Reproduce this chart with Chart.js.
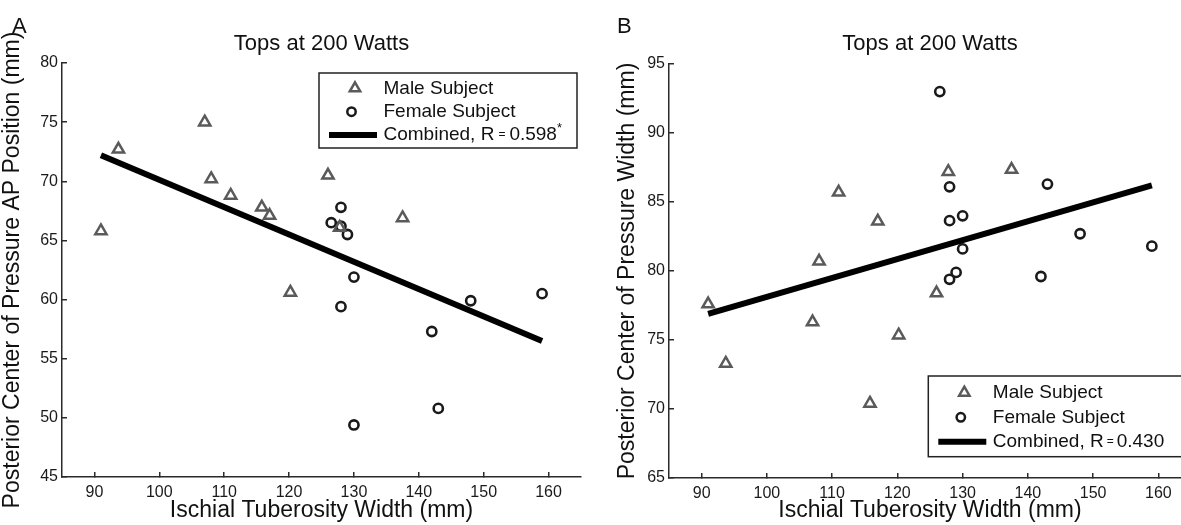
<!DOCTYPE html>
<html>
<head>
<meta charset="utf-8">
<script src="https://cdn.jsdelivr.net/npm/chart.js@4.4.1/dist/chart.umd.min.js"></script>
<style>
  html, body { margin: 0; padding: 0; background: #fff; overflow: hidden; }
  body { width: 1181px; height: 525px; position: relative; }
  #chartA { position: absolute; left: 0; top: 0; }
  #chartB { position: absolute; left: 590px; top: 0; }
</style>
</head>
<body>
<canvas id="chartA" width="590" height="525"></canvas>
<canvas id="chartB" width="610" height="525"></canvas>
<script>
// Ischial tuberosity width (mm) per subject
const maleWidth = [91, 93.7, 107, 108, 111, 115.8, 117, 120.2, 126, 127.8, 137.5];
const femaleWidth = [126.5, 128, 128, 128, 129, 130, 130, 142, 143, 148, 159];

// Panel A: posterior COP AP position (mm)
const maleAP = [65.8, 72.7, 75.0, 70.2, 68.8, 67.8, 67.1, 60.6, 70.5, 66.1, 66.9];
const femaleAP = [66.5, 67.8, 66.2, 59.4, 65.5, 61.9, 49.4, 57.3, 50.8, 59.9, 60.5];

// Panel B: posterior COP width (mm)
const maleCopWidth = [77.6, 73.3, 76.3, 80.7, 85.7, 70.4, 83.6, 75.35, 78.4, 87.2, 87.35];
const femaleCopWidth = [93.0, 86.1, 83.65, 79.4, 79.9, 84.0, 81.6, 79.6, 86.3, 82.7, 81.8];

// regression line end points
const fitWidth = [91, 159];
const fitAP = [72.2, 56.5];
const fitCopWidth = [76.9, 86.2];

// tick labels
const widthTicks = [90, 100, 110, 120, 130, 140, 150, 160];
const apTicks = [45, 50, 55, 60, 65, 70, 75, 80];
const copWidthTicks = [65, 70, 75, 80, 85, 90, 95];

const FONT = '"Liberation Sans", Arial, Helvetica, sans-serif';
const MALE_COLOR = '#5a5a5a';
const FEMALE_COLOR = '#1a1a1a';
const AXIS_COLOR = '#2a2a2a';

function toPoints(xs, ys) {
    return xs.map((x, i) => ({x: x, y: ys[i]}));
}

function drawParts(ctx, parts, x, y) {
    parts.forEach(p => {
        ctx.font = `${p.size}px ${FONT}`;
        ctx.fillText(p.text, x, y + (p.dy || 0));
        x += ctx.measureText(p.text).width + (p.gap || 0);
    });
}

// panel letter, title and the boxed legend
const panelDecor = {
    id: 'panelDecor',
    afterDraw(chart, args, o) {
        const ctx = chart.ctx;
        const area = chart.chartArea;
        ctx.save();
        ctx.fillStyle = '#111';
        ctx.textBaseline = 'alphabetic';
        ctx.font = `22px ${FONT}`;
        ctx.textAlign = 'left';
        ctx.fillText(o.letter, o.letterX, 33);
        ctx.textAlign = 'center';
        ctx.fillText(o.title, (area.left + area.right) / 2, 50);

        const lg = o.legend;
        ctx.fillStyle = '#fff';
        ctx.fillRect(lg.x, lg.y, lg.w, lg.h);
        ctx.lineWidth = 1.5;
        ctx.strokeStyle = '#222';
        ctx.strokeRect(lg.x, lg.y, lg.w, lg.h);

        // male triangle
        const r = 6;
        let cx = lg.x + 36, cy = lg.rows[0];
        ctx.beginPath();
        ctx.moveTo(cx, cy - r);
        ctx.lineTo(cx + r * 0.866, cy + r / 2);
        ctx.lineTo(cx - r * 0.866, cy + r / 2);
        ctx.closePath();
        ctx.lineWidth = 2.5;
        ctx.strokeStyle = MALE_COLOR;
        ctx.stroke();

        // female circle
        ctx.beginPath();
        ctx.arc(lg.x + 32.5, lg.rows[1], 4.2, 0, Math.PI * 2);
        ctx.strokeStyle = FEMALE_COLOR;
        ctx.stroke();

        // combined line
        ctx.beginPath();
        ctx.moveTo(lg.x + 10, lg.rows[2]);
        ctx.lineTo(lg.x + 58, lg.rows[2]);
        ctx.lineWidth = 6;
        ctx.strokeStyle = '#000';
        ctx.stroke();

        ctx.fillStyle = '#111';
        ctx.textAlign = 'left';
        ctx.textBaseline = 'middle';
        const tx = lg.x + 64.5;
        drawParts(ctx, [{text: 'Male Subject', size: 19}], tx, lg.rows[0]);
        drawParts(ctx, [{text: 'Female Subject', size: 19}], tx, lg.rows[1]);
        drawParts(ctx, o.combined, tx, lg.rows[2]);
        ctx.restore();
    }
};

function makePanel(id, p) {
    return new Chart(document.getElementById(id), {
        type: 'scatter',
        data: {
            datasets: [
                {
                    label: 'Combined',
                    data: toPoints(fitWidth, p.fit),
                    showLine: true,
                    borderColor: '#000',
                    borderWidth: 6,
                    borderCapStyle: 'butt',
                    pointRadius: 0
                },
                {
                    label: 'Male Subject',
                    data: toPoints(maleWidth, p.male),
                    pointStyle: 'triangle',
                    pointRadius: 6.5,
                    borderWidth: 2.5,
                    borderColor: MALE_COLOR,
                    backgroundColor: 'rgba(0,0,0,0)'
                },
                {
                    label: 'Female Subject',
                    data: toPoints(femaleWidth, p.female),
                    pointStyle: 'circle',
                    pointRadius: 4.6,
                    borderWidth: 2.6,
                    borderColor: FEMALE_COLOR,
                    backgroundColor: 'rgba(0,0,0,0)'
                }
            ]
        },
        options: {
            responsive: false,
            animation: false,
            devicePixelRatio: 1,
            layout: {padding: {top: p.top, right: p.right, left: 0, bottom: 0}},
            plugins: {
                legend: {display: false},
                tooltip: {enabled: false},
                panelDecor: p.decor
            },
            scales: {
                x: {
                    type: 'linear',
                    min: 85,
                    max: 165,
                    afterBuildTicks: s => { s.ticks = widthTicks.map(v => ({value: v})); },
                    afterFit: s => { s.height = p.xHeight; },
                    grid: {drawOnChartArea: false, tickLength: -5, color: AXIS_COLOR, lineWidth: 1.5},
                    border: {color: AXIS_COLOR, width: 1.5},
                    ticks: {color: '#1a1a1a', font: {family: FONT, size: 16}, padding: 11, maxRotation: 0, autoSkip: false},
                    title: {
                        display: true,
                        text: 'Ischial Tuberosity Width (mm)',
                        color: '#111',
                        font: {family: FONT, size: 23, lineHeight: 1},
                        padding: {top: 0, bottom: 3}
                    }
                },
                y: {
                    type: 'linear',
                    min: p.yTicks[0],
                    max: p.yTicks[p.yTicks.length - 1],
                    afterBuildTicks: s => { s.ticks = p.yTicks.map(v => ({value: v})); },
                    afterFit: s => { s.width = p.yWidth; },
                    grid: {drawOnChartArea: false, tickLength: -5, color: AXIS_COLOR, lineWidth: 1.5},
                    border: {color: AXIS_COLOR, width: 1.5},
                    ticks: {color: '#1a1a1a', font: {family: FONT, size: 16}, padding: 9, autoSkip: false},
                    title: {
                        display: true,
                        text: p.yTitle,
                        color: '#111',
                        font: {family: FONT, size: 23, lineHeight: 1},
                        padding: {top: p.yTitlePad, bottom: 0}
                    }
                }
            }
        },
        plugins: [panelDecor]
    });
}

makePanel('chartA', {
    male: maleAP,
    female: femaleAP,
    fit: fitAP,
    yTicks: apTicks,
    yTitle: 'Posterior Center of Pressure AP Position (mm)',
    top: 63, right: 5, xHeight: 48, yWidth: 62, yTitlePad: 1,
    decor: {
        letter: 'A', letterX: 12, title: 'Tops at 200 Watts',
        legend: {x: 319, y: 73, w: 258, h: 75, rows: [88.3, 111.7, 135]},
        combined: [
            {text: 'Combined, R', size: 19, gap: 4},
            {text: '=', size: 12, gap: 4},
            {text: '0.598', size: 19},
            {text: '*', size: 13, dy: -7}
        ]
    }
});

makePanel('chartB', {
    male: maleCopWidth,
    female: femaleCopWidth,
    fit: fitCopWidth,
    yTicks: copWidthTicks,
    yTitle: 'Posterior Center of Pressure Width (mm)',
    top: 64, right: 8, xHeight: 47, yWidth: 79, yTitlePad: 26,
    decor: {
        letter: 'B', letterX: 27, title: 'Tops at 200 Watts',
        legend: {x: 338.3, y: 376, w: 258, h: 80.7, rows: [392.7, 417.3, 441.7]},
        combined: [
            {text: 'Combined, R', size: 19, gap: 3},
            {text: '=', size: 12, gap: 3},
            {text: '0.430', size: 19}
        ]
    }
});
</script>
</body>
</html>
